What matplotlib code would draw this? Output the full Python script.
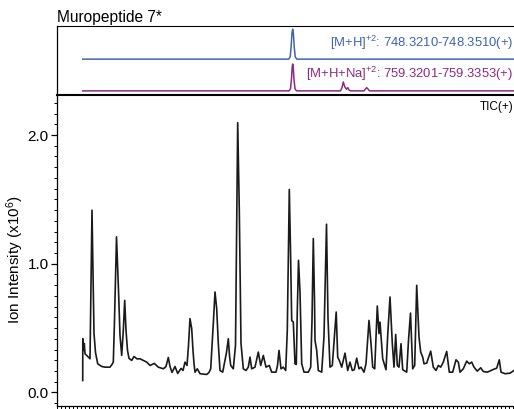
import matplotlib
matplotlib.use("Agg")
import matplotlib.pyplot as plt
from matplotlib.ticker import MultipleLocator, NullFormatter

plt.rcParams['font.family'] = ['Liberation Sans', 'DejaVu Sans']
plt.rcParams['mathtext.fontset'] = 'custom'
plt.rcParams['mathtext.rm'] = 'Liberation Sans'
plt.rcParams['mathtext.it'] = 'Liberation Sans:italic'
plt.rcParams['mathtext.bf'] = 'Liberation Sans:bold'

# TIC(+) trace: retention time (min) and ion intensity (x10^6)
tic_time = [2.57, 2.58, 2.65, 2.73, 2.80, 3.13, 3.30, 3.50, 3.70, 3.85, 4.07, 4.47,
            4.80, 5.30, 5.50, 5.63, 5.75, 5.95, 6.15, 6.30, 6.47, 6.63, 6.77, 6.90,
            7.05, 7.20, 7.47, 7.70, 8.00, 8.30, 8.97, 9.30, 9.73, 10.13, 10.63, 10.90,
            11.13, 11.30, 11.50, 11.80, 12.07, 12.40, 12.60, 12.80, 13.00, 13.15, 13.30,
            13.47, 13.60, 13.70, 13.80, 14.03, 14.30, 14.97, 15.20, 15.37, 15.63, 15.80,
            15.97, 16.13, 16.30, 16.57, 16.80, 16.95, 17.13, 17.25, 17.37, 17.63, 17.85,
            18.07, 18.23, 18.40, 18.63, 18.90, 19.13, 19.30, 19.47, 19.80, 20.13, 20.37,
            20.63, 20.90, 21.23, 21.47, 21.90, 22.05, 22.20, 22.40, 22.63, 22.87, 23.03,
            23.23, 23.35, 23.47, 23.63, 23.80, 23.93, 24.03, 24.15, 24.30, 24.47, 24.70,
            25.13, 25.37, 25.50, 25.63, 25.75, 25.80, 25.97, 26.13, 26.47, 26.70, 26.95,
            27.10, 27.30, 27.53, 27.73, 27.92, 28.07, 28.23, 28.47, 28.80, 29.07, 29.30,
            29.53, 29.73, 29.97, 30.20, 30.40, 30.70, 30.90, 31.20, 31.40, 31.57, 31.77,
            32.03, 32.20, 32.30, 32.57, 32.90, 33.07, 33.30, 33.53, 33.70, 33.87, 34.03,
            34.20, 34.40, 34.57, 34.97, 35.15, 35.35, 35.57, 35.77, 35.97, 36.20, 36.37,
            36.57, 36.70, 36.97, 37.37, 37.63, 37.90, 38.13, 38.37, 38.63, 38.97, 39.23,
            39.57, 39.90, 40.13, 40.30, 40.63, 40.97, 41.23, 41.47, 41.70, 42.03, 42.37,
            42.63, 43.03, 43.63, 43.97, 44.23, 44.40, 44.80, 45.30, 45.70]
tic_intensity = [0.093, 0.418, 0.327, 0.381, 0.301, 0.275, 0.262, 1.416, 0.459, 0.311,
                 0.223, 0.202, 0.197, 0.197, 0.218, 0.236, 0.560, 1.209, 0.794, 0.444,
                 0.288, 0.482, 0.716, 0.482, 0.327, 0.265, 0.249, 0.280, 0.261, 0.262,
                 0.236, 0.210, 0.226, 0.197, 0.184, 0.202, 0.272, 0.202, 0.156, 0.202,
                 0.148, 0.187, 0.171, 0.236, 0.210, 0.366, 0.574, 0.496, 0.327, 0.223,
                 0.158, 0.184, 0.146, 0.140, 0.156, 0.184, 0.535, 0.781, 0.651, 0.381,
                 0.171, 0.158, 0.249, 0.311, 0.418, 0.288, 0.210, 0.184, 0.366, 2.096,
                 1.416, 0.381, 0.184, 0.171, 0.197, 0.275, 0.184, 0.197, 0.314, 0.210,
                 0.288, 0.197, 0.210, 0.158, 0.158, 0.210, 0.327, 0.184, 0.197, 0.171,
                 0.482, 1.577, 1.105, 0.560, 0.547, 0.223, 0.218, 0.638, 1.027, 0.781,
                 0.223, 0.158, 0.158, 0.197, 0.560, 1.196, 0.716, 0.405, 0.327, 0.171,
                 0.158, 0.436, 1.307, 0.576, 0.197, 0.210, 0.420, 0.625, 0.275, 0.249,
                 0.197, 0.306, 0.171, 0.236, 0.171, 0.177, 0.267, 0.184, 0.197, 0.158,
                 0.223, 0.560, 0.381, 0.197, 0.184, 0.672, 0.457, 0.547, 0.262, 0.177,
                 0.444, 0.742, 0.381, 0.197, 0.451, 0.210, 0.197, 0.379, 0.177, 0.158,
                 0.405, 0.617, 0.184, 0.210, 0.833, 0.430, 0.314, 0.275, 0.223, 0.228,
                 0.321, 0.197, 0.171, 0.210, 0.197, 0.236, 0.319, 0.158, 0.158, 0.254,
                 0.236, 0.158, 0.184, 0.244, 0.223, 0.236, 0.197, 0.166, 0.192, 0.163,
                 0.158, 0.179, 0.189, 0.254, 0.158, 0.146, 0.150, 0.171]

# extracted ion chromatograms (relative intensity)
mh_time = [2.57, 23.17, 23.32, 23.42, 23.50, 23.57, 23.64, 23.72, 23.82, 23.97, 45.70]
mh_rel = [0.0, 0.0, 0.08, 0.45, 0.88, 1.0, 0.85, 0.42, 0.08, 0.0, 0.0]
mhna_time = [2.57, 23.20, 23.35, 23.45, 23.52, 23.57, 23.63, 23.70, 23.80, 23.95,
             28.35, 28.50, 28.63, 28.78, 28.95, 29.08, 29.20, 29.35, 29.55,
             30.70, 30.85, 30.97, 31.10, 31.25, 45.70]
mhna_rel = [0.0, 0.0, 0.08, 0.45, 0.88, 1.0, 0.85, 0.42, 0.08, 0.0,
            0.0, 0.12, 0.33, 0.15, 0.06, 0.12, 0.03, 0.0, 0.0,
            0.0, 0.07, 0.12, 0.07, 0.0, 0.0]

mh_label = "[M+H]$^{{+}2}$: 748.3210-748.3510(+)"
mhna_label = "[M+H+Na]$^{{+}2}$: 759.3201-759.3353(+)"
blue = '#3f63b3'
purple = '#8a2a84'

fig = plt.figure(figsize=(5.14, 4.09), dpi=100)
ax_top = fig.add_axes([0.1109, 0.7677, 0.8891, 0.1687])
ax = fig.add_axes([0.1109, 0.0073, 0.8891, 0.7604])

# top panel: EICs stacked
ax_top.plot(mh_time, [0.52 + 0.435 * v for v in mh_rel], color=blue, lw=1.1)
ax_top.plot(mhna_time, [0.06 + 0.39 * v for v in mhna_rel], color=purple, lw=1.1)
ax_top.set_xlim(0, 45.7)
ax_top.set_ylim(0, 1)
ax_top.set_xticks([])
ax_top.set_yticks([])
ax_top.spines['right'].set_visible(False)
ax_top.spines['bottom'].set_visible(False)
ax_top.spines['top'].set_linewidth(0.8)
ax_top.spines['left'].set_linewidth(0.9)
ax_top.text(0.999, 0.76, mh_label, transform=ax_top.transAxes, ha='right',
            va='center', fontsize=9.4, color=blue)
ax_top.text(0.999, 0.31, mhna_label, transform=ax_top.transAxes, ha='right',
            va='center', fontsize=9.4, color=purple)
ax_top.text(0.0, 1.02, "Muropeptide 7*", transform=ax_top.transAxes,
            ha='left', va='bottom', fontsize=11.2)

# main panel: TIC
ax.plot(tic_time, tic_intensity, color='#1a1a1a', lw=1.2)
ax.set_xlim(0, 45.7)
ax.set_ylim(-0.105, 2.311)
ax.spines['right'].set_visible(False)
ax.spines['top'].set_linewidth(1.5)
ax.spines['left'].set_linewidth(0.9)
ax.spines['bottom'].set_linewidth(0.9)
ax.set_yticks([0.0, 1.0, 2.0])
ax.set_yticklabels(['0.0', '1.0', '2.0'])
ax.yaxis.set_minor_locator(MultipleLocator(1 / 12))
ax.xaxis.set_major_locator(MultipleLocator(0.4))
ax.xaxis.set_major_formatter(NullFormatter())
ax.tick_params(axis='y', which='major', length=4, width=0.9, labelsize=11, pad=2)
ax.tick_params(axis='y', which='minor', length=2, width=0.7)
ax.tick_params(axis='x', which='major', length=3, width=0.7)
ax.set_ylabel("Ion Intensity (x10$^6$)", fontsize=11)
ax.yaxis.set_label_coords(-0.068, 0.47)
ax.text(0.999, 0.96, "TIC(+)", transform=ax.transAxes, ha='right', va='center',
        fontsize=8.5)

fig.savefig('out.png', dpi=100)
